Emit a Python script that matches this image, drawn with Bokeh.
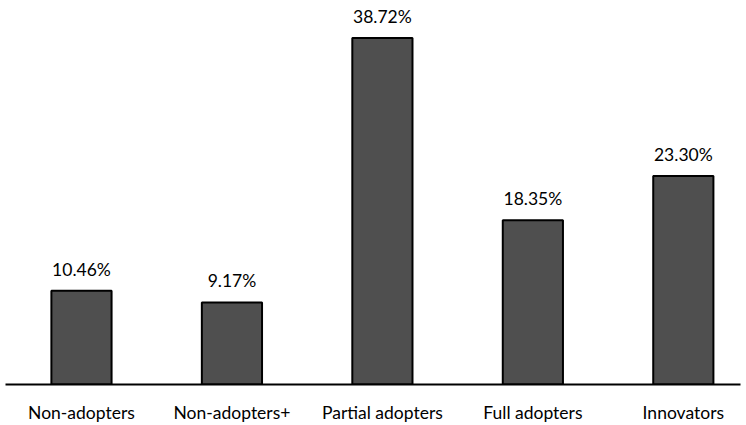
from bokeh.plotting import figure
from bokeh.models import ColumnDataSource, Range1d, FixedTicker
from bokeh.core.properties import value
from bokeh.embed import file_html
from bokeh.resources import INLINE

categories = ["Non-adopters", "Non-adopters+", "Partial adopters", "Full adopters", "Innovators"]
shares = [10.46, 9.17, 38.72, 18.35, 23.30]

xs = list(range(len(categories)))
labels = [f"{v:.2f}%" for v in shares]
src = ColumnDataSource(dict(x=xs, top=shares, label=labels))

p = figure(width=746, height=425, output_backend="svg", toolbar_location=None,
           x_range=Range1d(-0.505, 4.38), y_range=Range1d(0, 42.9),
           min_border_left=5, min_border_right=6, min_border_top=0, min_border_bottom=40)
p.outline_line_color = None
p.xgrid.visible = False
p.ygrid.visible = False
p.yaxis.visible = False
p.background_fill_color = "white"
p.border_fill_color = "white"

p.vbar(x="x", top="top", bottom=0, width=0.4, source=src,
       fill_color="#4f4f4f", line_color="black", line_width=2)

p.text(x="x", y="top", text="label", source=src, text_align="center",
       text_baseline="bottom", y_offset=-11, text_font=value("Lato"),
       text_font_size="17.5px", text_color="black")

ax = p.xaxis[0]
ax.ticker = FixedTicker(ticks=xs)
ax.major_label_overrides = {i: c for i, c in enumerate(categories)}
ax.major_tick_line_color = None
ax.minor_tick_line_color = None
ax.axis_line_color = "black"
ax.axis_line_width = 2
ax.major_label_text_font = "Lato"
ax.major_label_text_font_size = "17.5px"
ax.major_label_text_color = "black"
ax.major_label_standoff = 11

open("out.html", "w").write(file_html(p, INLINE))
